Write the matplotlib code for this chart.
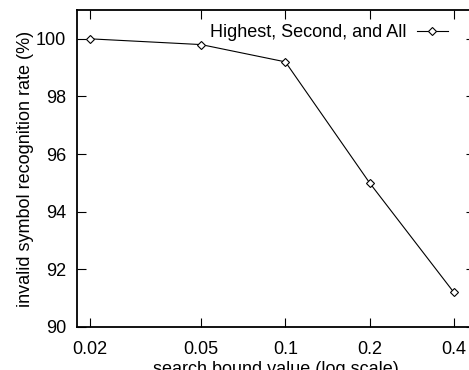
import matplotlib
matplotlib.use("Agg")
import matplotlib.pyplot as plt
from matplotlib.ticker import FixedLocator, FixedFormatter, NullLocator

plt.rcParams['font.family'] = ['Liberation Sans', 'DejaVu Sans']

bound = [0.02, 0.05, 0.1, 0.2, 0.4]
rate = [100.0, 99.8, 99.2, 95.0, 91.2]
xtick_labels = ['0.02', '0.05', '0.1', '0.2', '0.4']
yticks = [90, 92, 94, 96, 98, 100]

W, H = 469, 370
fig = plt.figure(figsize=(W / 100, H / 100), dpi=100)
left, right, top, bottom = 77, 475, 10, 327
ax = fig.add_axes([left / W, 1 - bottom / H, (right - left) / W, (bottom - top) / H])

ax.plot(bound, rate, color='black', linewidth=0.8, marker='D', markersize=4.5,
        markerfacecolor='white', markeredgecolor='black', markeredgewidth=0.8,
        label='Highest, Second, and All')

ax.set_xscale('log')
ax.set_xlim(0.018, 0.476)
ax.set_ylim(90, 101)
ax.xaxis.set_major_locator(FixedLocator(bound))
ax.xaxis.set_major_formatter(FixedFormatter(xtick_labels))
ax.xaxis.set_minor_locator(NullLocator())
ax.set_yticks(yticks)

ax.tick_params(direction='in', length=6.5, width=0.8, top=True, right=True,
               labelsize=13)
ax.tick_params(axis='x', pad=10)
ax.tick_params(axis='y', pad=8)
for s in ax.spines.values():
    s.set_linewidth(1.3)

ax.set_xlabel('search bound value (log scale)', fontsize=13, labelpad=2)
ax.set_ylabel('invalid symbol recognition rate (%)', fontsize=13, labelpad=1)

ax.legend(loc='upper right', bbox_to_anchor=(0.963, 0.995), frameon=False,
          markerfirst=False, fontsize=13, handlelength=1.7, handletextpad=0.6,
          borderaxespad=0.3)

fig.savefig('out.png', dpi=100)
